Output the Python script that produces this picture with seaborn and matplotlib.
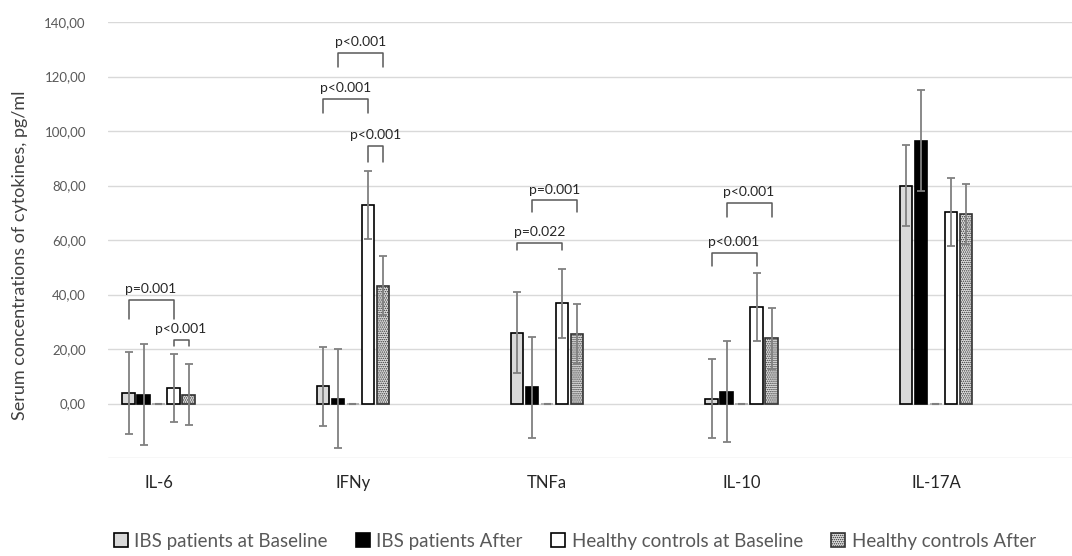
import numpy as np
import pandas as pd
import matplotlib
matplotlib.use("Agg")
import matplotlib.pyplot as plt
from matplotlib.patches import Patch
import seaborn as sns

# Cytokine levels (mean) and spread (SD)
categories = ["IL-6", "IFNy", "TNFa", "IL-10", "IL-17A"]
series_names = ["IBS patients at Baseline", "IBS patients After", "spacer",
                "Healthy controls at Baseline", "Healthy controls After"]

ibs_base = [3.9, 6.3, 26.0, 1.8, 80.0]
ibs_after = [3.3, 1.8, 6.0, 4.3, 96.5]
spacer = [0, 0, 0, 0, 0]
hc_base = [5.7, 73.0, 36.8, 35.4, 70.3]
hc_after = [3.3, 43.3, 25.6, 24.0, 69.6]

ibs_base_sd = [15.0, 14.5, 14.8, 14.6, 14.7]
ibs_after_sd = [18.7, 18.2, 18.5, 18.5, 18.5]
spacer_sd = [0, 0, 0, 0, 0]
hc_base_sd = [12.5, 12.5, 12.6, 12.5, 12.5]
hc_after_sd = [11.2, 11.0, 11.0, 11.2, 11.0]

# significance brackets: (category, left series, right series, top, leg bottom, label)
brackets = [
    ("IL-6", 0, 3, 38.0, 31.0, "p=0.001"),
    ("IL-6", 3, 4, 23.2, 21.2, "p<0.001"),
    ("IFNy", 1, 4, 128.7, 123.6, "p<0.001"),
    ("IFNy", 0, 3, 111.7, 106.6, "p<0.001"),
    ("IFNy", 3, 4, 94.5, 88.7, "p<0.001"),
    ("TNFa", 0, 3, 58.8, 56.2, "p=0.022"),
    ("TNFa", 1, 4, 74.5, 70.4, "p=0.001"),
    ("IL-10", 0, 3, 55.2, 50.5, "p<0.001"),
    ("IL-10", 1, 4, 73.5, 68.4, "p<0.001"),
]

values = [ibs_base, ibs_after, spacer, hc_base, hc_after]
sds = [ibs_base_sd, ibs_after_sd, spacer_sd, hc_base_sd, hc_after_sd]

df = pd.DataFrame({
    "cytokine": np.tile(categories, len(series_names)),
    "group": np.repeat(series_names, len(categories)),
    "value": np.concatenate(values),
})

sns.set_theme(style="white")
plt.rcParams["font.family"] = ["Lato", "DejaVu Sans"]
plt.rcParams["hatch.linewidth"] = 0.7

fig = plt.figure(figsize=(10.72, 5.56), dpi=100)
ax = fig.add_axes([108 / 1072, 1 - 458 / 556, (1072 - 108) / 1072, (458 - 22) / 556])

fills = ["#d9d9d9", "#000000", "white", "white", "#e0e0e0"]
edges = ["#000000", "#000000", "#a6a6a6", "#000000", "#333333"]

sns.barplot(data=df, x="cytokine", y="value", hue="group", order=categories,
            hue_order=series_names, width=0.386, gap=0.17, errorbar=None,
            legend=False, ax=ax, palette=fills, saturation=1)

n = len(categories)
centers = {}
for i, name in enumerate(series_names):
    for j, cat in enumerate(categories):
        p = ax.patches[i * n + j]
        p.set_edgecolor(edges[i])
        p.set_linewidth(1.2)
        if i == 4:
            p.set_hatch("........")
        cx = p.get_x() + p.get_width() / 2
        centers[(cat, i)] = cx
        if name == "spacer":
            # empty series shows up as a short grey dash at zero
            ax.plot([cx - 0.018, cx + 0.018], [values[i][j]] * 2, color="#7f7f7f",
                    lw=1.5, zorder=5, solid_capstyle="butt")
        else:
            ax.errorbar(cx, values[i][j], yerr=sds[i][j], fmt="none",
                        ecolor="#808080", elinewidth=1.3, capsize=3, capthick=1.3,
                        zorder=3)

for cat, a, b, top, bottom, label in brackets:
    x0, x1 = centers[(cat, a)], centers[(cat, b)]
    ax.plot([x0, x0, x1, x1], [bottom, top, top, bottom], color="#595959", lw=1.1,
            zorder=4)
    ax.text((x0 + x1) / 2, top + 1.8, label, ha="center", va="bottom",
            fontsize=10, color="#262626")

ax.set_ylim(-20, 140)
ax.set_xlim(-0.26, 4.70)
yt = np.arange(-20, 141, 20)
ax.set_yticks(yt)
ax.set_yticklabels(["" if v < 0 else f"{v:.2f}".replace(".", ",") for v in yt])
ax.yaxis.grid(True, color="#d9d9d9", lw=1)
ax.xaxis.grid(False)
for s in ax.spines.values():
    s.set_visible(False)
ax.tick_params(axis="y", length=0, pad=16, labelsize=9.5, labelcolor="#595959")
ax.tick_params(axis="x", length=0, pad=12, labelsize=12, labelcolor="#262626")
ax.set_xlabel("")
ax.set_ylabel("Serum concentrations of cytokines, pg/ml", fontsize=13, color="#404040")
ax.yaxis.set_label_coords(-0.083, 0.466)

handles = [Patch(facecolor=fills[k], edgecolor=edges[k],
                 hatch="........" if k == 4 else None, lw=1.2)
           for k in [0, 1, 3, 4]]
labels = [series_names[k] for k in [0, 1, 3, 4]]
fig.legend(handles, labels, loc="center", bbox_to_anchor=(0.536, 1 - 541 / 556),
           ncol=4, frameon=False, fontsize=13.5, handlelength=0.75, handleheight=0.75,
           handletextpad=0.35, columnspacing=1.5, labelcolor="#595959")

fig.savefig("out.png", dpi=100)
